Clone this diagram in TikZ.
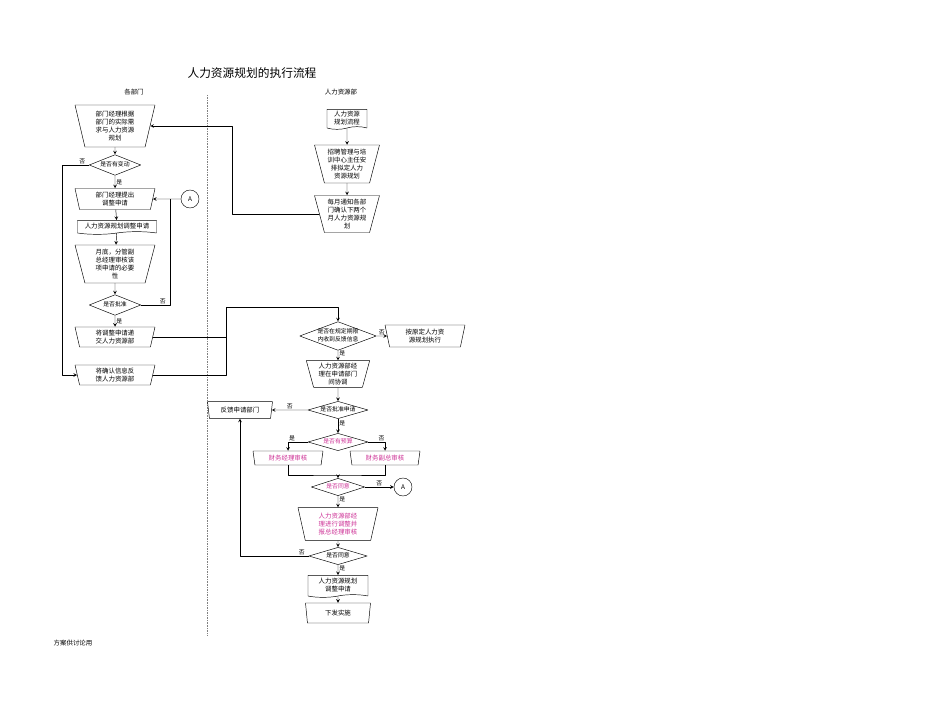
\documentclass[tikz,border=0pt]{standalone}
\usepackage{fontspec}
\newfontfamily\cjk{Noto Sans CJK SC}
\usetikzlibrary{shapes.geometric,shapes.symbols}
\definecolor{hrpink}{RGB}{205,50,150}
\newcommand\dtxt[1]{\smash{\makebox[0pt]{\raisebox{-0.2em}{\begin{tabular}{@{}c@{}}#1\end{tabular}}}}}

\begin{document}
\begin{tikzpicture}[x=0.03cm, y=-0.03cm, >=stealth, line join=round, font=\cjk\fontsize{5.5}{7}\selectfont,
    trap/.style={draw, trapezium, shape border rotate=180, trapezium stretches body=true,
      trapezium left angle=72, trapezium right angle=72, inner sep=0pt, align=center},
    dia/.style={draw, diamond, inner sep=0pt, font=\cjk\fontsize{5}{6.5}\selectfont},
    doc/.style={draw, tape, tape bend top=none, tape bend height=0.08cm, inner sep=1pt, align=center},
    conn/.style={draw, circle, minimum size=0.54cm, inner sep=0pt},
    lab/.style={inner sep=1pt, font=\cjk\fontsize{5}{6}\selectfont}]
    \useasboundingbox (0,0) rectangle (950,713);
    \node (title) at (252,73) {\fontsize{10}{12}\selectfont 人力资源规划的执行流程};
    \node (hd1) at (134,92) {各部门};
    \node (hd2) at (341,92) {人力资源部};
    \draw[densely dotted, gray] (207,95) -- (207,635);
    % 各部门
    \node[trap, minimum width=2.4cm, minimum height=1.26cm] (L1) at (115,126) {部门经理根据\\部门的实际需\\求与人力资源\\规划};
    \node[dia, minimum width=1.55cm, minimum height=0.62cm] (L2) at (115,165) {\dtxt{是否有变动}};
    \node[trap, minimum width=2.4cm, minimum height=0.63cm] (L3) at (115,199) {部门经理提出\\调整申请};
    \node[doc, minimum width=2.37cm, minimum height=0.42cm] (L4) at (117,226) {人力资源规划调整申请};
    \node[trap, minimum width=2.4cm, minimum height=1.14cm] (L5) at (115,264) {月底，分管副\\总经理审核该\\项申请的必要\\性};
    \node[dia, minimum width=1.55cm, minimum height=0.62cm] (L6) at (115,305) {\dtxt{是否批准}};
    \node[trap, minimum width=2.4cm, minimum height=0.6cm] (L7) at (115,337) {将调整申请递\\交人力资源部};
    \node[trap, minimum width=2.4cm, minimum height=0.6cm] (L8) at (115,375) {将确认信息反\\馈人力资源部};
    \node[conn] (A1) at (190,199) {A};
    % 人力资源部
    \node[doc, minimum width=1.2cm, minimum height=0.6cm] (R1) at (347,118) {人力资源\\规划流程};
    \node[trap, minimum width=1.95cm, minimum height=1.14cm] (R2) at (347,164) {招聘管理与培\\训中心主任安\\排拟定人力\\资源规划};
    \node[trap, minimum width=1.95cm, minimum height=1.11cm] (R3) at (347,214) {每月通知各部\\门确认下两个\\月人力资源规\\划};
    \node[dia, minimum width=2.3cm, minimum height=0.86cm] (R4) at (338,336) {\dtxt{是否在规定期限\\内收到反馈信息}};
    \node[trap, minimum width=2.4cm, minimum height=0.66cm] (R4n) at (425,336) {按原定人力资\\源规划执行};
    \node[trap, minimum width=1.9cm, minimum height=0.8cm] (R5) at (338,374) {人力资源部经\\理在申请部门\\间协调};
    \node[dia, minimum width=1.8cm, minimum height=0.52cm] (R6) at (338,410) {\dtxt{是否批准申请}};
    \node[trap, minimum width=1.95cm, minimum height=0.5cm] (F1) at (240,410) {反馈申请部门};
    \node[dia, minimum width=1.8cm, minimum height=0.52cm, text=hrpink] (R7) at (338,442) {\dtxt{是否有预算}};
    \node[trap, minimum width=2.1cm, minimum height=0.42cm, text=hrpink] (B1) at (288,458) {财务经理审核};
    \node[trap, minimum width=2.1cm, minimum height=0.42cm, text=hrpink] (B2) at (385,458) {财务副总审核};
    \node[dia, minimum width=1.6cm, minimum height=0.52cm, text=hrpink] (R8) at (338,487) {\dtxt{是否同意}};
    \node[conn] (A2) at (403,487) {A};
    \node[trap, minimum width=2.4cm, minimum height=0.98cm, text=hrpink] (R9) at (338,524) {人力资源部经\\理进行调整并\\报总经理审核};
    \node[dia, minimum width=1.75cm, minimum height=0.52cm] (R10) at (338,556) {\dtxt{是否同意}};
    \node[doc, minimum width=1.8cm, minimum height=0.66cm] (R11) at (338,585) {人力资源规划\\调整申请};
    \node[trap, minimum width=1.95cm, minimum height=0.6cm] (R12) at (338,613) {下发实施};
    \node (note) at (73,643) {方案供讨论用};
    % 连线
    \coordinate (b1) at (62,0);
    \coordinate (b2) at (170,0);
    \coordinate (b3) at (226,307);
    \coordinate (b4) at (232,0);
    \coordinate (b5) at (338,475);
    \draw[->] (L1) -- (L2);
    \draw[->] (L2) -- node[lab, right]{是} (L3);
    \draw[->] (L3) -- (L4);
    \draw[->] (L4) -- (L5);
    \draw[->] (L5) -- (L6);
    \draw[->] (L6) -- node[lab, right]{是} (L7);
    \draw[->] (L2.west) -- node[lab, above, near start]{否} (L2.west -| b1) |- (L8.west);
    \draw (L6.east) -- node[lab, above, near end]{否} (L6.east -| b2) -- (b2 |- L3.east);
    \draw[->] (A1) -- (L3.east);
    \draw (L7.east) -- (L7.east -| b3);
    \draw[->] (L8.east) -| (b3) -| (R4.north);
    \draw[->] (R3.west) -- (R3.west -| b4) |- (L1.east);
    \draw[->] (R1) -- (R2);
    \draw[->] (R2) -- (R3);
    \draw[->] (R4) -- node[lab, above]{否} (R4n);
    \draw[->] (R4) -- node[lab, right, pos=0.3]{是} (R5);
    \draw[->] (R5) -- (R6);
    \draw[->] (R6) -- node[lab, above]{否} (F1);
    \draw[->] (R6) -- node[lab, right, pos=0.3]{是} (R7);
    \draw[->] (R7.west) -| node[lab, above, pos=0.4]{是} (B1.north);
    \draw[->] (R7.east) -| node[lab, above, pos=0.4]{否} (B2.north);
    \draw (B1.south) |- (b5) -| (B2.south);
    \draw[->] (b5) -- (R8);
    \draw[->] (R8) -- node[lab, above]{否} (A2);
    \draw[->] (R8) -- node[lab, right, pos=0.3]{是} (R9);
    \draw[->] (R9) -- (R10);
    \draw[->] (R10.west) -| node[lab, above, pos=0.05]{否} (F1.south);
    \draw[->] (R10) -- node[lab, right, pos=0.3]{是} (R11);
    \draw[->] (R11) -- (R12);
\end{tikzpicture}
\end{document}
